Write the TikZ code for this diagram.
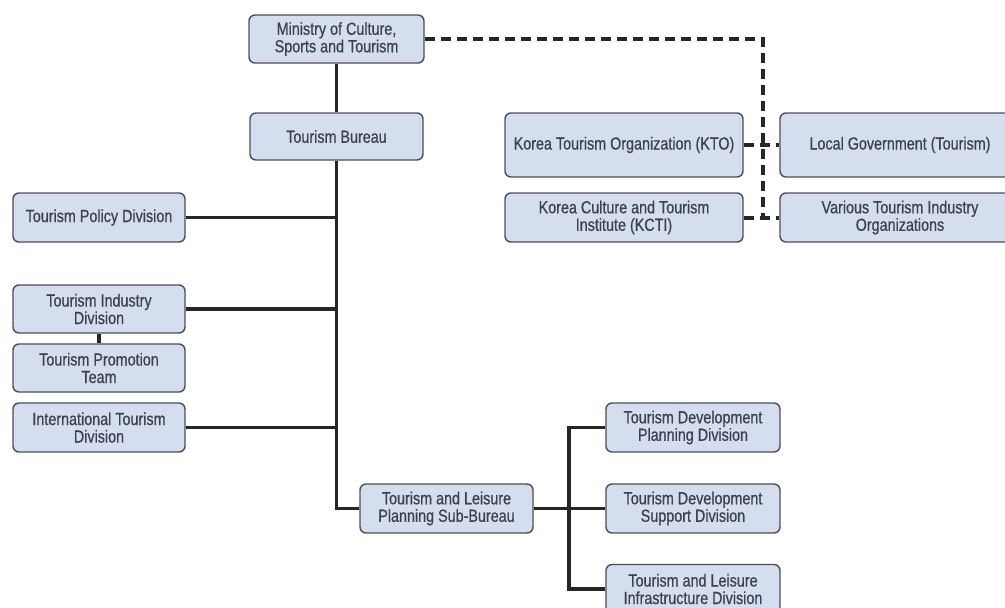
\documentclass[tikz,border=0pt]{standalone}
\usepackage{fontspec}
\setmainfont{Liberation Sans}[FakeStretch=0.82, FakeBold=0.6]
\usetikzlibrary{positioning}
\definecolor{boxfill}{HTML}{D4DEEF}
\definecolor{boxline}{HTML}{4A4E57}
\definecolor{boxtext}{HTML}{3B4150}
\begin{document}
\begin{tikzpicture}[x=1pt, y=-1pt]
    \tikzstyle{unit} = [rectangle, draw=boxline, line width=1.4pt, fill=boxfill, rounded corners=6pt, text=boxtext, align=center, inner sep=0pt, minimum width=173pt, minimum height=48pt, font=\fontsize{17.5}{17.5}\selectfont]
    \tikzstyle{wide} = [unit, minimum width=238pt]
    \tikzstyle{line} = [draw, line width=3.6pt, black!85]
    \tikzstyle{link} = [draw, line width=4pt, black!85, dash pattern=on 10pt off 6pt]

    \useasboundingbox (0,0) rectangle (1005,608);

    \node [unit, minimum width=175pt] (mcst) at (336.5,39) {Ministry of Culture,\\Sports and Tourism};
    \node [unit, minimum height=47pt] (bureau) at (336.5,136.5) {Tourism Bureau};

    \node [wide, minimum height=64pt] (kto) at (624,145) {Korea Tourism Organization (KTO)};
    \node [wide, minimum width=240pt, minimum height=64pt] (local) at (900,145) {Local Government (Tourism)};
    \node [wide, minimum height=49pt] (kcti) at (624,217.5) {Korea Culture and Tourism\\Institute (KCTI)};
    \node [wide, minimum width=240pt, minimum height=49pt] (various) at (900,217.5) {Various Tourism Industry\\Organizations};

    \node [unit, minimum width=172pt, minimum height=49pt] (policy) at (99,217.5) {Tourism Policy Division};
    \node [unit, minimum width=172pt] (industry) at (99,309) {Tourism Industry\\Division};
    \node [unit, minimum width=172pt] (promo) at (99,368) {Tourism Promotion\\Team};
    \node [unit, minimum width=172pt, minimum height=49pt] (intl) at (99,427.5) {International Tourism\\Division};

    \node [unit, minimum height=49pt] (sub) at (446.5,508.5) {Tourism and Leisure\\Planning Sub-Bureau};
    \node [unit, minimum width=174pt, minimum height=49pt] (tdp) at (693,427.5) {Tourism Development\\Planning Division};
    \node [unit, minimum width=174pt, minimum height=49pt] (tds) at (693,508.5) {Tourism Development\\Support Division};
    \node [unit, minimum width=174pt, minimum height=49pt] (tli) at (693,589) {Tourism and Leisure\\Infrastructure Division};

    % solid chain of command
    \draw [line] (mcst) -- (bureau);
    \draw [line] (bureau.south) |- (sub.west);
    \draw [line] (policy.east) -- (policy.east -| bureau.south);
    \draw [line] (industry.east) -- (industry.east -| bureau.south);
    \draw [line] (intl.east) -- (intl.east -| bureau.south);
    \draw [line] (industry) -- (promo);

    \coordinate [right=35pt of sub.east] (fork);
    \draw [line] (sub.east) -- (tds.west);
    \draw [line] (tdp.west) -| (fork) |- (tli.west);

    % affiliated bodies
    \coordinate (linkend) at (763,217.5);
    \draw [link] (mcst.east) -| (linkend);
    \draw [link] (kto.east) -- (local.west);
    \draw [link] (kcti.east) -- (various.west);
\end{tikzpicture}
\end{document}
